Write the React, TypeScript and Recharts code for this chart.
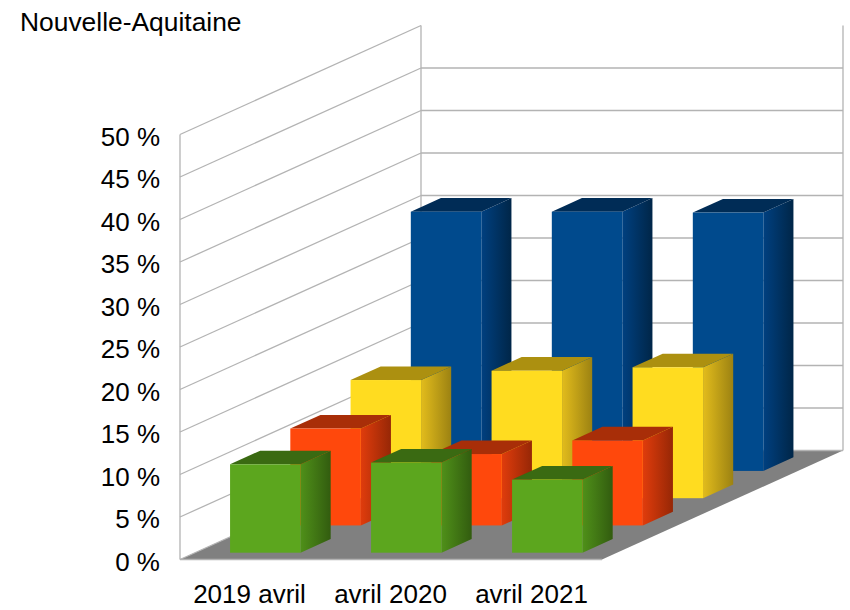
import React from "react";
import { Bar, BarChart, CartesianGrid, XAxis, YAxis } from "recharts";

const categories = ["2019 avril", "avril 2020", "avril 2021"];
const blueValues = [30.5, 30.5, 30.4];
const yellowValues = [13.9, 15.0, 15.4];
const orangeValues = [11.4, 8.4, 10.0];
const greenValues = [10.4, 10.6, 8.6];
const yTicks = [0, 5, 10, 15, 20, 25, 30, 35, 40, 45, 50];

const rows = categories.map((name, i) => ({
  name,
  blue: blueValues[i],
  yellow: yellowValues[i],
  orange: orangeValues[i],
  green: greenValues[i],
}));

// full depth of the fake 3d box, in px, and how far the back wall runs
const DEPTH_X = 241;
const DEPTH_Y = 109;
const ROWS = 4;
const ROW_X = DEPTH_X / ROWS;
const ROW_Y = DEPTH_Y / ROWS;
const PLOT_TOP = 134.5;
const PLOT_H = 425;
const WALL_RIGHT = 843;
const GRID = "#b3b3b3";
const FONT = "Liberation Sans";

const faces = [
  { key: "blue", front: "#004a8d", top: "#002c56", sideA: "#004080", sideB: "#002648" },
  { key: "yellow", front: "#ffdc20", top: "#ac9010", sideA: "#e2bc1c", sideB: "#9c8212" },
  { key: "orange", front: "#ff480c", top: "#a82e08", sideA: "#e03c0c", sideB: "#962706" },
  { key: "green", front: "#5ca61e", top: "#3a6a12", sideA: "#4f9019", sideB: "#325c0f" },
];

function gridLine(props: any) {
  const { x1, y1, index, key } = props;
  const by = y1 - DEPTH_Y;
  const bx = x1 + DEPTH_X;
  const isFloor = index === 0;
  const isTop = index === yTicks.length - 1;
  return (
    <g key={key ?? index} stroke={GRID} strokeWidth={1.3}>
      {isFloor && (
        <>
          <polygon
            points={`${x1},${y1} ${bx},${by} ${WALL_RIGHT},${by} ${WALL_RIGHT - DEPTH_X},${y1}`}
            fill="#808080"
            stroke="none"
          />
          <line x1={x1} y1={y1} x2={WALL_RIGHT - DEPTH_X} y2={y1} />
          <line x1={x1} y1={y1} x2={x1} y2={y1 - PLOT_H} />
          <line x1={bx} y1={by} x2={bx} y2={by - PLOT_H} />
          <line x1={WALL_RIGHT} y1={by} x2={WALL_RIGHT} y2={by - PLOT_H} />
        </>
      )}
      <line x1={x1} y1={y1} x2={bx} y2={by} />
      {!isTop && <line x1={bx} y1={by} x2={WALL_RIGHT} y2={by} />}
    </g>
  );
}

function Box({ x, y, width, height, row, face }: any) {
  // each bar sits in the middle half of its depth row
  const dx = (row + 0.25) * ROW_X;
  const dy = (row + 0.25) * ROW_Y;
  const l = x + dx;
  const r = l + width;
  const t = y - dy;
  const b = t + height;
  const ox = ROW_X / 2;
  const oy = ROW_Y / 2;
  return (
    <g>
      <polygon
        points={`${r},${t} ${r + ox},${t - oy} ${r + ox},${b - oy} ${r},${b}`}
        fill={`url(#side-${face.key})`}
      />
      <polygon
        points={`${l},${t} ${l + ox},${t - oy} ${r + ox},${t - oy} ${r},${t}`}
        fill={face.top}
      />
      <rect x={l} y={t} width={width} height={height} fill={face.front} />
    </g>
  );
}

export default function App() {
  const order = [3, 2, 1, 0];
  return (
    <div style={{ position: "absolute", left: 0, top: 0, width: 850, height: 610, background: "#fff" }}>
      <div
        style={{
          position: "absolute",
          left: 20,
          top: 7,
          fontFamily: FONT,
          fontSize: 26.4,
          color: "#000",
          zIndex: 2,
        }}
      >
        Nouvelle-Aquitaine
      </div>
      <BarChart
        width={850}
        height={610}
        data={rows}
        margin={{ top: PLOT_TOP, right: 247, bottom: 0, left: 0 }}
        barSize={70.5}
        barGap={-70.5}
      >
        <defs>
          {faces.map((f) => (
            <linearGradient key={f.key} id={`side-${f.key}`} x1="0" y1="0" x2="1" y2="0">
              <stop offset="0%" stopColor={f.sideA} />
              <stop offset="100%" stopColor={f.sideB} />
            </linearGradient>
          ))}
        </defs>
        <CartesianGrid vertical={false} horizontal={gridLine} />
        <XAxis
          dataKey="name"
          height={50.5}
          axisLine={false}
          tickLine={false}
          tickSize={0}
          tickMargin={25}
          interval={0}
          tick={{ fill: "#000", fontSize: 26, fontFamily: FONT, dx: -1 }}
        />
        <YAxis
          width={180}
          domain={[0, 50]}
          ticks={yTicks}
          axisLine={false}
          tickLine={false}
          tickSize={0}
          tickMargin={20}
          interval={0}
          tickFormatter={(v: number) => `${v} %`}
          tick={{ fill: "#000", fontSize: 26, fontFamily: FONT, dy: 2 }}
        />
        {order.map((row) => (
          <Bar
            key={faces[3 - row].key}
            dataKey={faces[3 - row].key}
            isAnimationActive={false}
            shape={(p: any) => <Box {...p} row={row} face={faces[3 - row]} />}
          />
        ))}
      </BarChart>
    </div>
  );
}
